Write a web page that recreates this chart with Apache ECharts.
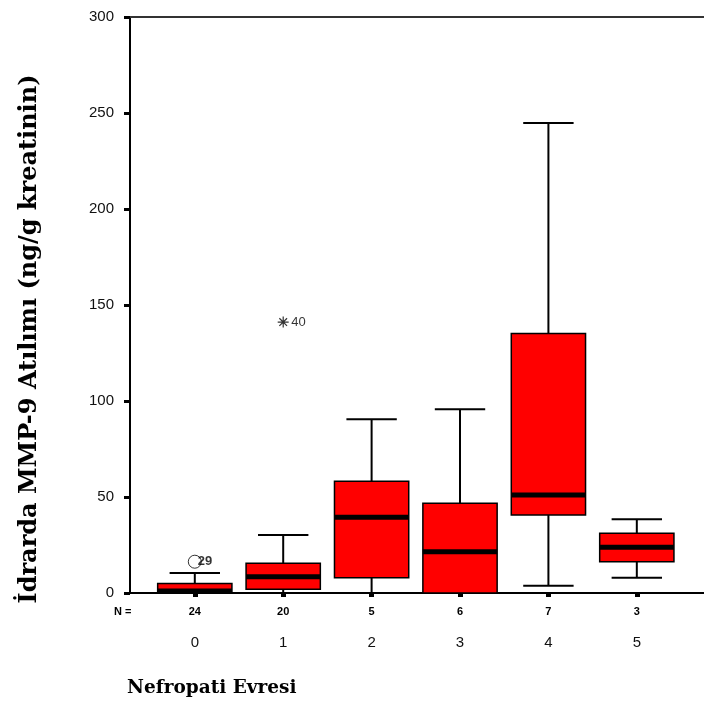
<!DOCTYPE html>
<html>
<head>
<meta charset="utf-8">
<script src="https://cdn.jsdelivr.net/npm/echarts@6/dist/echarts.min.js"></script>
<style>
  html, body { margin: 0; padding: 0; background: #fff; }
  #chart { width: 704px; height: 709px; }
</style>
</head>
<body>
<div id="chart"></div>
<script>
// Nefropati evresi (kategori)
var categories = [0, 1, 2, 3, 4, 5];
// N sayıları
var nCounts = [24, 20, 5, 6, 7, 3];
// kutu grafiği değerleri
var whiskerLow = [0, 0, 0, 0, 3.8, 8.0];
var q1 = [0, 1.9, 8.0, 0, 40.6, 16.3];
var median = [1, 8.5, 39.4, 21.5, 51.0, 23.8];
var q3 = [5.0, 15.5, 58.2, 46.7, 135.2, 31.1];
var whiskerHigh = [10.4, 30.2, 90.5, 95.7, 244.8, 38.4];
// aykırı değerler: [kategori, değer, etiket]
var outliers = [[0, 16.3, '29']];
var extremes = [[1, 141.1, '40']];

var boxData = categories.map(function (c, i) {
  return [c, whiskerLow[i], q1[i], median[i], q3[i], whiskerHigh[i]];
});

function renderBox(params, api) {
  var x = api.value(0);
  var unit = api.size([1, 0])[0];
  var halfBox = unit * 0.42;
  var halfCap = unit * 0.285;
  var pLow = api.coord([x, api.value(1)]);
  var pQ1 = api.coord([x, api.value(2)]);
  var pMed = api.coord([x, api.value(3)]);
  var pQ3 = api.coord([x, api.value(4)]);
  var pHigh = api.coord([x, api.value(5)]);
  var cx = pMed[0];
  var line = { stroke: '#000', lineWidth: 2 };
  return {
    type: 'group',
    children: [
      { type: 'line', shape: { x1: cx, y1: pQ3[1], x2: cx, y2: pHigh[1] }, style: line },
      { type: 'line', shape: { x1: cx, y1: pQ1[1], x2: cx, y2: pLow[1] }, style: line },
      { type: 'line', shape: { x1: cx - halfCap, y1: pHigh[1], x2: cx + halfCap, y2: pHigh[1] }, style: line },
      { type: 'line', shape: { x1: cx - halfCap, y1: pLow[1], x2: cx + halfCap, y2: pLow[1] }, style: line },
      {
        type: 'rect',
        shape: { x: cx - halfBox, y: pQ3[1], width: halfBox * 2, height: pQ1[1] - pQ3[1] },
        style: { fill: '#ff0000', stroke: '#000', lineWidth: 1.5 }
      },
      {
        type: 'line',
        shape: { x1: cx - halfBox, y1: pMed[1], x2: cx + halfBox, y2: pMed[1] },
        style: { stroke: '#000', lineWidth: 5 }
      }
    ]
  };
}

var chart = echarts.init(document.getElementById('chart'));

var xMin = -0.733, xMax = 5.76;

var option = {
  animation: false,
  backgroundColor: '#fff',
  grid: { left: 130, top: 17, right: -10, bottom: 116 },
  xAxis: [
    {
      type: 'value',
      min: xMin,
      max: xMax,
      position: 'bottom',
      splitLine: { show: false },
      axisLine: { onZero: false, lineStyle: { color: '#000', width: 2 } },
      axisTick: {
        customValues: categories,
        length: 4,
        lineStyle: { color: '#000', width: 5 }
      },
      axisLabel: {
        customValues: categories,
        margin: 9,
        formatter: function (v) {
          var i = categories.indexOf(v);
          return '{n|' + nCounts[i] + '}\n{c|' + v + '}';
        },
        rich: {
          n: { fontSize: 11, lineHeight: 20, fontFamily: 'Liberation Sans', fontWeight: 'bold', color: '#000' },
          c: { fontSize: 15, lineHeight: 42, fontFamily: 'Liberation Sans', color: '#111' }
        }
      }
    },
    {
      type: 'value',
      min: xMin,
      max: xMax,
      position: 'top',
      splitLine: { show: false },
      axisLine: { onZero: false, lineStyle: { color: '#333', width: 2 } },
      axisTick: { show: false },
      axisLabel: { show: false }
    }
  ],
  yAxis: {
    type: 'value',
    min: 0,
    max: 300,
    interval: 50,
    splitLine: { show: false },
    axisLine: { show: true, onZero: false, lineStyle: { color: '#000', width: 2 } },
    axisTick: { show: true, length: 6, lineStyle: { color: '#000', width: 3 } },
    axisLabel: {
      margin: 16,
      fontSize: 15,
      fontFamily: 'Liberation Sans',
      color: '#111'
    }
  },
  series: [
    {
      type: 'custom',
      renderItem: renderBox,
      encode: { x: 0, y: [1, 2, 3, 4, 5] },
      data: boxData,
      z: 2
    },
    {
      type: 'scatter',
      data: outliers,
      symbol: 'circle',
      symbolSize: 13,
      itemStyle: { color: '#fff', borderColor: '#000', borderWidth: 1 },
      label: {
        show: true,
        position: 'right',
        distance: -4,
        formatter: function (p) { return p.data[2]; },
        fontSize: 13,
        fontWeight: 'bold',
        fontFamily: 'Liberation Sans',
        color: '#000'
      },
      z: 3
    },
    {
      type: 'scatter',
      data: extremes,
      symbol: 'path://M0,5 L10,5 M5,0 L5,10 M1.5,1.5 L8.5,8.5 M8.5,1.5 L1.5,8.5',
      symbolSize: 11,
      itemStyle: { color: 'none', borderColor: '#000', borderWidth: 1.2 },
      label: {
        show: true,
        position: 'right',
        distance: 0,
        formatter: function (p) { return p.data[2]; },
        fontSize: 13,
        fontFamily: 'Liberation Sans',
        color: '#000'
      },
      z: 3
    }
  ],
  graphic: [
    {
      type: 'text',
      left: 114,
      top: 606,
      style: { text: 'N =', fontSize: 11, fontFamily: 'Liberation Sans', fontWeight: 'bold', fill: '#000' }
    },
    {
      type: 'text',
      x: 30,
      y: 339,
      rotation: Math.PI / 2,
      style: {
        text: 'İdrarda MMP-9 Atılımı (ng/g kreatinin)',
        fontSize: 24,
        fontWeight: 'bold',
        fontFamily: 'DejaVu Serif',
        fill: '#000',
        align: 'center',
        verticalAlign: 'middle'
      }
    },
    {
      type: 'text',
      x: 127,
      y: 688,
      style: {
        text: 'Nefropati Evresi',
        fontSize: 18.5,
        fontWeight: 'bold',
        fontFamily: 'DejaVu Serif',
        fill: '#000',
        align: 'left',
        verticalAlign: 'middle'
      }
    }
  ]
};

chart.setOption(option);
</script>
</body>
</html>
